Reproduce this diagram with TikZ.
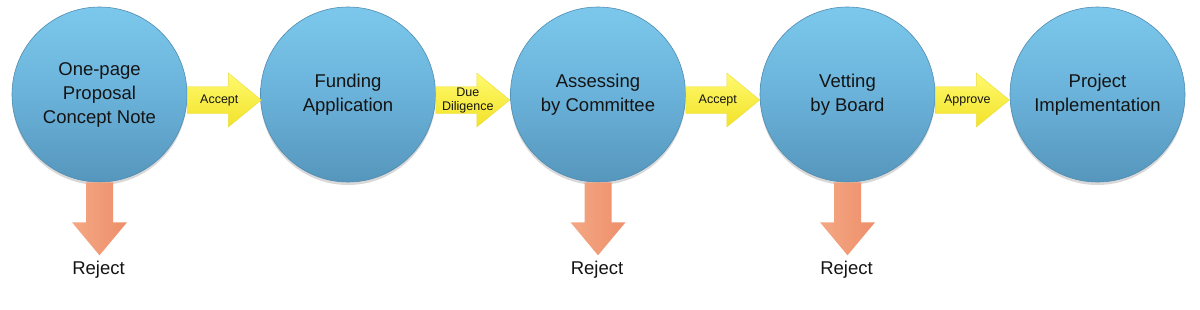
\documentclass[tikz,border=0pt]{standalone}
\usepackage{fontspec}
\setmainfont{Liberation Sans}
\usetikzlibrary{calc,shadows}
\definecolor{ctop}{RGB}{124,200,236}
\definecolor{cmid}{RGB}{106,178,218}
\definecolor{cbot}{RGB}{86,150,188}
\definecolor{crim}{RGB}{80,140,178}
\definecolor{ytop}{RGB}{255,250,110}
\definecolor{ybot}{RGB}{242,226,40}
\definecolor{yedge}{RGB}{236,220,70}
\definecolor{otop}{RGB}{244,168,132}
\definecolor{obot}{RGB}{238,142,106}
\definecolor{txt}{RGB}{20,20,20}
\tikzset{
  stage/.style={circle, minimum size=175pt, inner sep=0pt, draw=crim, line width=0.6pt,
    top color=ctop, bottom color=cbot, middle color=cmid, align=center,
    font=\fontsize{18.5}{24}\selectfont, text=txt,
    drop shadow={opacity=0.3, shadow xshift=0pt, shadow yshift=-3pt}},
  yarrow/.style={top color=ytop, bottom color=ybot, draw=yedge, line width=0.4pt},
  oarrow/.style={left color=otop, right color=obot, draw=none},
  alabel/.style={font=\fontsize{12.5}{14}\selectfont, text=txt, align=center, inner sep=0pt},
  rlabel/.style={font=\fontsize{18.5}{20}\selectfont, text=txt, inner sep=0pt},
}
\newcommand\yarr[3]{%
  \begin{scope}[shift={(#1.east)}]
    \path[yarrow] (0,-8) -- (41,-8) -- (41,-21.5) -- (74,5.5) -- (41,32.5) -- (41,19) -- (0,19) -- cycle;
    \node[alabel] (#3) at (32,5.5) {#2};
  \end{scope}}
\newcommand\orarr[2]{%
  \begin{scope}[shift={(#1.south)}]
    \path[oarrow] (-13.5,0) -- (-13.5,40) -- (-27.5,40) -- (0,73) -- (27.5,40) -- (13.5,40) -- (13.5,0) -- cycle;
    \node[rlabel] (#2) at (-1,87) {Reject};
  \end{scope}}
\begin{document}
\begin{tikzpicture}[x=1pt,y=-1pt]
\useasboundingbox[fill=white] (0,0) rectangle (1200,309);
\node[stage] (c1) at (99.5,94.5) {One-page\\Proposal\\Concept Note};
\node[stage] (c2) at (348,94.5) {Funding\\Application};
\node[stage] (c3) at (598,94.5) {Assessing\\by Committee};
\node[stage] (c4) at (847.5,94.5) {Vetting\\by Board};
\node[stage] (c5) at (1097.5,94.5) {Project\\Implementation};
\yarr{c1}{Accept}{a1}
\yarr{c2}{Due\\Diligence}{a2}
\yarr{c3}{Accept}{a3}
\yarr{c4}{Approve}{a4}
\orarr{c1}{r1}
\orarr{c3}{r3}
\orarr{c4}{r4}
\end{tikzpicture}
\end{document}
